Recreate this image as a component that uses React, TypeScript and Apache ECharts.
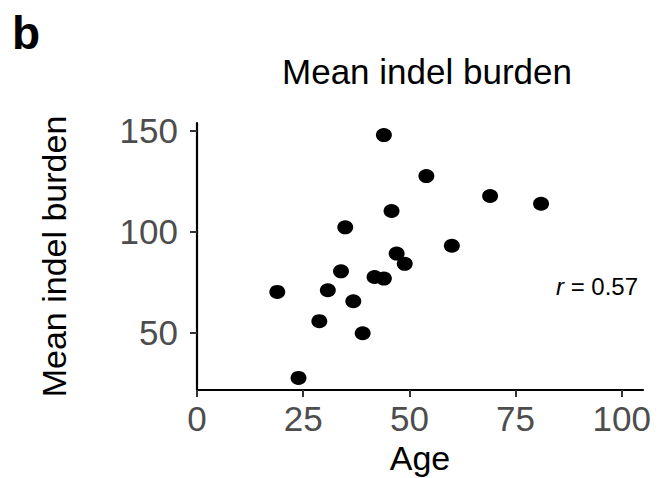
import React, { useEffect, useRef } from "react";
import * as echarts from "echarts";

// Donor age (years) and mean indel burden per sample
const ages = [44, 54, 69, 81, 45.8, 34.9, 60, 47, 48.9, 33.9, 41.8, 44, 18.9, 30.8, 36.8, 28.8, 39, 23.9];
const burden = [147.7, 127.4, 117.5, 113.7, 110.1, 102, 92.9, 89, 83.9, 80.2, 77.4, 76.6, 70, 70.8, 65.4, 55.5, 49.5, 27.4];

const xTicks = [0, 25, 50, 75, 100];
const yTicks = [50, 100, 150];
const correlation = "0.57";

const FONT = "'Liberation Sans', Arial, Helvetica, sans-serif";

export default function App() {
  const ref = useRef<HTMLDivElement>(null);

  useEffect(() => {
    if (!ref.current) return;
    const chart = echarts.init(ref.current, null, { renderer: "svg" });
    const points = ages.map((a, i) => [a, burden[i]]);

    chart.setOption({
      animation: false,
      backgroundColor: "#ffffff",
      grid: {
        left: 197,
        right: 16,
        top: 123,
        bottom: 88,
        containLabel: false,
        outerBoundsMode: "none",
      },
      xAxis: {
        type: "value",
        min: 0,
        max: 105,
        name: "Age",
        nameLocation: "middle",
        nameGap: 48,
        nameTextStyle: { color: "#000", fontSize: 34, fontFamily: FONT },
        axisLine: { show: true, onZero: false, lineStyle: { color: "#000", width: 2.2 } },
        axisTick: { show: true, length: 7, lineStyle: { color: "#333", width: 2 }, customValues: xTicks },
        axisLabel: { color: "#4d4d4d", fontSize: 35, fontFamily: FONT, margin: 11, customValues: xTicks },
        splitLine: { show: false },
      },
      yAxis: {
        type: "value",
        min: 21.4,
        max: 153.7,
        name: "Mean indel burden",
        nameLocation: "middle",
        nameGap: 126,
        nameTextStyle: { color: "#000", fontSize: 34, fontFamily: FONT },
        axisLine: { show: true, onZero: false, lineStyle: { color: "#000", width: 2.2 } },
        axisTick: { show: true, length: 7, lineStyle: { color: "#333", width: 2 }, customValues: yTicks },
        axisLabel: { color: "#4d4d4d", fontSize: 35, fontFamily: FONT, margin: 19, customValues: yTicks },
        splitLine: { show: false },
      },
      series: [
        {
          type: "scatter",
          data: points,
          symbol: "circle",
          symbolSize: [16, 14],
          itemStyle: { color: "#000", opacity: 1 },
        },
      ],
      graphic: [
        {
          type: "text",
          left: 12,
          top: 10,
          style: { text: "b", fill: "#000", font: `bold 46px ${FONT}` },
        },
        {
          type: "text",
          x: 427,
          y: 71,
          style: {
            text: "Mean indel burden",
            fill: "#000",
            font: `35px ${FONT}`,
            align: "center",
            verticalAlign: "middle",
          },
        },
        {
          type: "text",
          x: 556,
          y: 286,
          style: {
            rich: {
              it: { fontStyle: "italic", fontSize: 24, fontFamily: FONT, fill: "#000" },
              n: { fontSize: 24, fontFamily: FONT, fill: "#000" },
            },
            text: `{it|r}{n| = ${correlation}}`,
            align: "left",
            verticalAlign: "middle",
          },
        },
      ],
    });

    return () => chart.dispose();
  }, []);

  return <div ref={ref} style={{ width: 659, height: 478, position: "absolute", left: 0, top: 0 }} />;
}
